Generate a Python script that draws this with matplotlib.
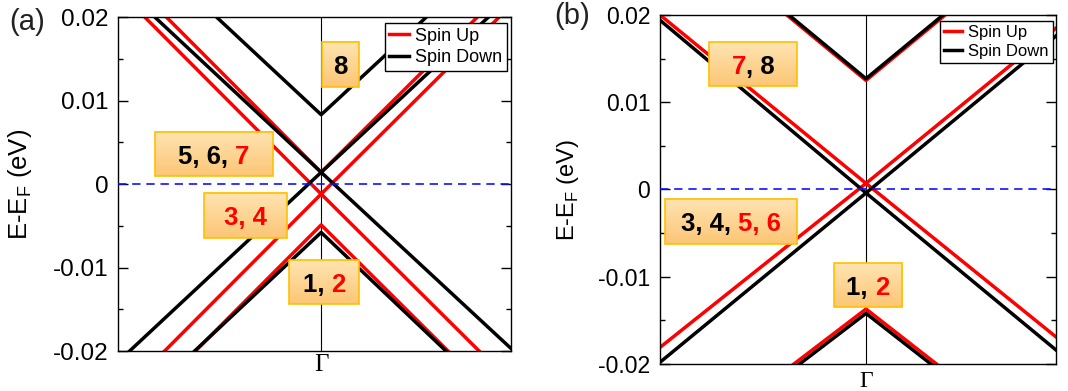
import numpy as np
import matplotlib
matplotlib.use('Agg')
import matplotlib.pyplot as plt
from matplotlib.patches import Rectangle
from matplotlib.colors import LinearSegmentedColormap
from matplotlib.ticker import MultipleLocator

plt.rcParams['font.family'] = ['Liberation Sans', 'DejaVu Sans']
plt.rcParams['axes.unicode_minus'] = False

# k points: left edge of the path, Gamma, right edge (arbitrary units)
k_a = [-1.07, 0.0, 1.0]
k_b = [-1.084, 0.0, 1.0]

# band energies (eV) at the three k points
# panel (a)
a_spin_up = [
    [-0.0293, -0.0049, -0.0275],   # band 2
    [-0.0256, -0.0012, -0.0238],   # band 3
    [0.0232, -0.0012, 0.0214],     # band 4
    [0.0258, 0.0014, 0.0240],      # band 7
]
a_spin_down = [
    [-0.0286, -0.0058, -0.0274],   # band 1
    [-0.0213, 0.0014, -0.0197],    # band 5
    [0.0241, 0.0014, 0.0225],      # band 6
    [0.0310, 0.0083, 0.0294],      # band 8
]
# panel (b)
b_spin_up = [
    [-0.0317, -0.0137, -0.0307],   # band 2
    [0.0200, 0.0007, -0.0169],     # band 5
    [-0.0181, 0.0007, 0.0185],     # band 6
    [0.0320, 0.0125, 0.0305],      # band 7
]
b_spin_down = [
    [-0.0322, -0.0142, -0.0312],   # band 1
    [0.0194, -0.0004, -0.0184],    # band 3
    [-0.0198, -0.0004, 0.0176],    # band 4
    [0.0322, 0.0127, 0.0307],      # band 8
]

y_ticks = [-0.02, -0.01, 0, 0.01, 0.02]
y_tick_labels = ['-0.02', '-0.01', '0', '0.01', '0.02']
k_tick_labels = ['\u0393']
legend_labels = ['Spin Up', 'Spin Down']

# band-index labels: list of (text, colour) pieces
labels_a = [
    [('8', 'black')],
    [('5, 6, ', 'black'), ('7', 'red')],
    [('3, 4', 'red')],
    [('1, ', 'black'), ('2', 'red')],
]
labels_b = [
    [('7', 'red'), (', 8', 'black')],
    [('3, 4, ', 'black'), ('5, 6', 'red')],
    [('1, ', 'black'), ('2', 'red')],
]

box_cmap = LinearSegmentedColormap.from_list('box', ['#FFE4B2', '#FCC676'])


def draw_panel(ax, k, up, down, tick_fs, ylab_fs, leg_fs, gamma_fs, gamma_pad, ylab_x, leg_anchor):
    for i, e in enumerate(up):
        ax.plot(k, e, color='red', lw=2.5, zorder=2,
                label=legend_labels[0] if i == 0 else None)
    for i, e in enumerate(down):
        ax.plot(k, e, color='black', lw=2.5, zorder=3,
                label=legend_labels[1] if i == 0 else None)

    ax.axvline(0, color='black', lw=0.8, zorder=1)
    ax.axhline(0, color='#1010ff', lw=1.2, ls=(0, (5, 3.5)), zorder=4)

    ax.set_xlim(k[0], k[-1])
    ax.set_ylim(-0.02, 0.02)
    ax.set_yticks(y_ticks)
    ax.set_yticklabels(y_tick_labels, fontsize=tick_fs)
    ax.yaxis.set_minor_locator(MultipleLocator(0.005))
    ax.tick_params(axis='y', which='both', direction='in', left=True, right=True, pad=7)
    ax.tick_params(axis='y', which='major', length=7, width=1)
    ax.tick_params(axis='y', which='minor', length=3.5, width=1)
    ax.set_xticks([0])
    ax.set_xticklabels(k_tick_labels, fontsize=gamma_fs, fontfamily='Liberation Serif')
    ax.tick_params(axis='x', length=0, pad=gamma_pad)
    for s in ax.spines.values():
        s.set_linewidth(1.0)

    ax.set_ylabel('E-E$_\\mathregular{F}$ (eV)', fontsize=ylab_fs)
    ax.yaxis.set_label_coords(ylab_x, 0.5)

    leg = ax.legend(loc='upper right', bbox_to_anchor=leg_anchor, borderaxespad=0,
                    fontsize=leg_fs, fancybox=False, edgecolor='black', framealpha=1,
                    handlelength=1.1, handletextpad=0.35, borderpad=0.25,
                    labelspacing=0.25)
    leg.get_frame().set_linewidth(1.0)


def add_label(ax, box, parts, fs=18.5):
    x0, y0, x1, y1 = box
    # orange gradient box, lighter at the top
    ax.imshow(np.linspace(0, 1, 64).reshape(-1, 1), cmap=box_cmap, extent=(x0, x1, y0, y1),
              transform=ax.transAxes, aspect='auto', origin='upper', zorder=6)
    ax.add_patch(Rectangle((x0, y0), x1 - x0, y1 - y0, transform=ax.transAxes,
                           facecolor='none', edgecolor='#FFC000', lw=1.2, zorder=6.5))
    first = ax.text((x0 + x1) / 2, (y0 + y1) / 2 - 0.008, parts[0][0], color=parts[0][1],
                    transform=ax.transAxes, ha='left', va='center', fontsize=fs,
                    fontweight='bold', zorder=7)
    last = first
    for s, c in parts[1:]:
        last = ax.annotate(s, xy=(1, 0), xycoords=last, ha='left', va='bottom', color=c,
                           fontsize=fs, fontweight='bold', zorder=7)
    return ax, first, last, (x0 + x1) / 2


fig = plt.figure(figsize=(10.68, 3.91), dpi=100)
ax_a = fig.add_axes([0.1105, 0.1023, 0.368, 0.8542])
ax_b = fig.add_axes([0.618, 0.0691, 0.3708, 0.8926])

draw_panel(ax_a, k_a, a_spin_up, a_spin_down, 17.5, 18.5, 13, 18, 2, -0.214, (0.99, 0.982))
draw_panel(ax_b, k_b, b_spin_up, b_spin_down, 16.5, 17, 12, 17, 5, -0.2, (0.992, 0.983))

placed = []
boxes_a = [(0.519, 0.790, 0.613, 0.925), (0.094, 0.524, 0.394, 0.656),
           (0.219, 0.338, 0.430, 0.473), (0.435, 0.141, 0.613, 0.272)]
boxes_b = [(0.124, 0.797, 0.346, 0.923), (0.013, 0.344, 0.346, 0.473),
           (0.439, 0.163, 0.611, 0.289)]
for box, parts in zip(boxes_a, labels_a):
    placed.append(add_label(ax_a, box, parts))
for box, parts in zip(boxes_b, labels_b):
    placed.append(add_label(ax_b, box, parts))

fig.text(0.0084, 0.944, '(a)', fontsize=21, color='#222222', ha='left', va='center')
fig.text(0.5187, 0.959, '(b)', fontsize=21, color='#222222', ha='left', va='center')

# centre the multi-coloured labels inside their boxes
fig.canvas.draw()
renderer = fig.canvas.get_renderer()
for ax, first, last, cx in placed:
    width = last.get_window_extent(renderer).x1 - first.get_window_extent(renderer).x0
    cx_disp = ax.transAxes.transform((cx, 0))[0]
    first.set_x(ax.transAxes.inverted().transform((cx_disp - width / 2, 0))[0])

fig.savefig('out.png', dpi=100)
